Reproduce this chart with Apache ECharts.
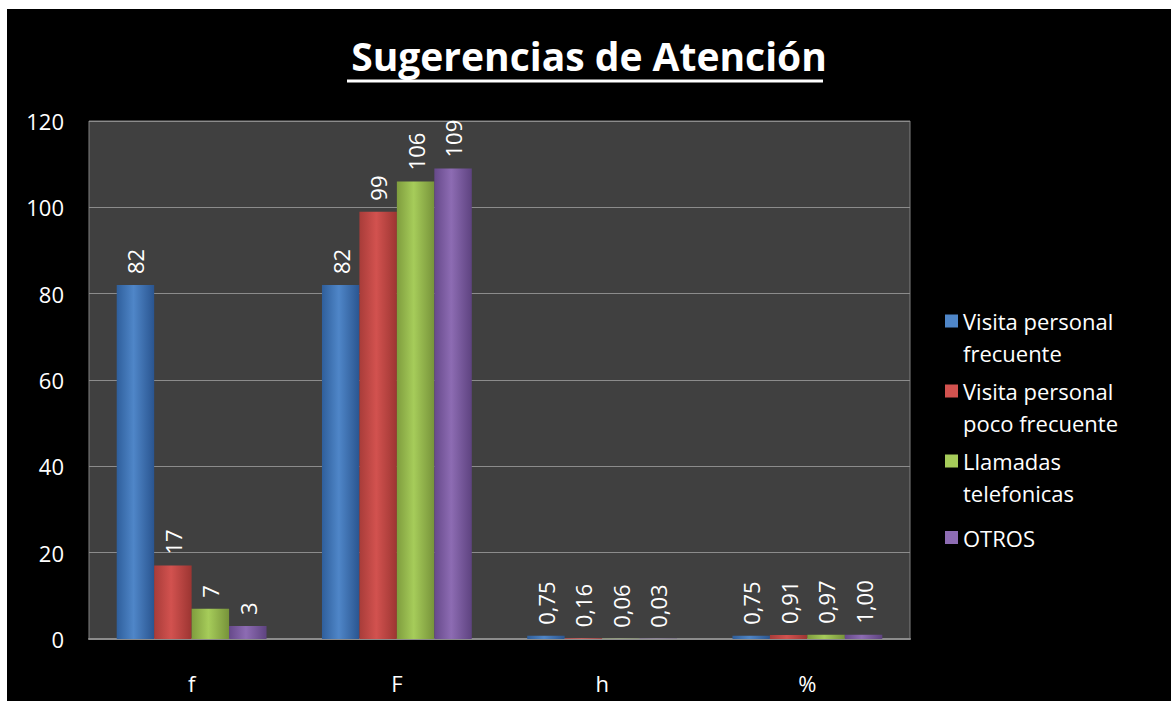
<!DOCTYPE html>
<html>
<head>
<meta charset="utf-8">
<title>Sugerencias de Atención</title>
<script src="https://cdn.jsdelivr.net/npm/echarts@6/dist/echarts.min.js"></script>
<style>
  html, body { margin: 0; padding: 0; background: #ffffff; }
  #chart { position: absolute; left: 7px; top: 9px; width: 1164px; height: 692px; }
</style>
</head>
<body>
<div id="chart"></div>
<script>
var categories = ['f', 'F', 'h', '%'];
var seriesNames = ['Visita personal\nfrecuente', 'Visita personal\npoco frecuente', 'Llamadas\ntelefonicas', 'OTROS'];
var visitaFrecuente = [82, 82, 0.75, 0.75];
var visitaPoco = [17, 99, 0.16, 0.91];
var llamadas = [7, 106, 0.06, 0.97];
var otros = [3, 109, 0.03, 1.00];
var yTicks = [0, 20, 40, 60, 80, 100, 120];

var font = '"Open Sans", Lato, sans-serif';
// edge / centre / edge colours for the bevel look
var palette = [
  ['#2f5f9c', '#4f86c8', '#2a5590'],
  ['#a83c39', '#d2524f', '#9c3532'],
  ['#7f9d3e', '#a6cc5a', '#77933a'],
  ['#66498a', '#8d6cb3', '#5e4380']
];

// legend square sits on the first text line (tiny dot stretches the box downward)
var iconTop = 'path://M0,0h13v13h-13z M0,45h0.01v0.01h-0.01z';
var iconMid = 'path://M0,16h13v13h-13z M0,0h0.01v0.01h-0.01z M0,45h0.01v0.01h-0.01z';

function grad(c) {
  return {
    type: 'linear', x: 0, y: 0, x2: 1, y2: 0,
    colorStops: [
      { offset: 0, color: c[0] },
      { offset: 0.45, color: c[1] },
      { offset: 1, color: c[2] }
    ]
  };
}

function fmt(p) {
  var v = p.value;
  return v < 2 ? v.toFixed(2).replace('.', ',') : String(v);
}

var myChart = echarts.init(document.getElementById('chart'), null, { renderer: 'svg' });

var values = [visitaFrecuente, visitaPoco, llamadas, otros];
var series = [];
for (var i = 0; i < values.length; i++) {
  series.push({
    name: seriesNames[i],
    type: 'bar',
    data: values[i],
    barGap: '0%',
    barCategoryGap: '27%',
    itemStyle: { color: grad(palette[i]) },
    label: {
      show: true,
      position: 'top',
      rotate: 90,
      align: 'left',
      verticalAlign: 'middle',
      distance: 11,
      color: '#ffffff',
      fontFamily: font,
      fontSize: 22,
      formatter: fmt
    }
  });
}

myChart.setOption({
  backgroundColor: '#000000',
  animation: false,
  title: {
    text: 'Sugerencias de Atención',
    left: 'center',
    top: 22,
    textStyle: { color: '#ffffff', fontFamily: font, fontWeight: 'bold', fontSize: 39 }
  },
  graphic: [{
    type: 'line',
    shape: { x1: 340, y1: 72, x2: 816, y2: 72 },
    style: { stroke: '#ffffff', lineWidth: 3 }
  }],
  legend: {
    orient: 'vertical',
    left: 933,
    top: 291,
    itemWidth: 13,
    itemHeight: 45,
    itemGap: 6,
    textStyle: { color: '#ffffff', fontFamily: font, fontSize: 22, lineHeight: 32 },
    data: seriesNames.map(function (n, i) {
      return {
        name: n,
        icon: n.indexOf('\n') >= 0 ? iconTop : iconMid,
        itemStyle: { color: palette[i][1] }
      };
    })
  },
  grid: {
    left: 82, top: 112, width: 821, height: 518,
    show: true,
    backgroundColor: '#404040',
    borderColor: '#808080',
    borderWidth: 1
  },
  xAxis: {
    type: 'category',
    data: categories,
    axisLine: { lineStyle: { color: '#8c8c8c', width: 2 } },
    axisTick: { show: false },
    axisLabel: { color: '#ffffff', fontFamily: font, fontSize: 22, margin: 33 }
  },
  yAxis: {
    type: 'value',
    min: yTicks[0],
    max: yTicks[yTicks.length - 1],
    interval: 20,
    axisLine: { show: false },
    axisTick: { show: false },
    splitLine: { lineStyle: { color: '#8c8c8c', width: 1 } },
    axisLabel: { color: '#ffffff', fontFamily: font, fontSize: 22, margin: 25 }
  },
  series: series
});

window.addEventListener('resize', function () {
  myChart.resize();
});
</script>
</body>
</html>
